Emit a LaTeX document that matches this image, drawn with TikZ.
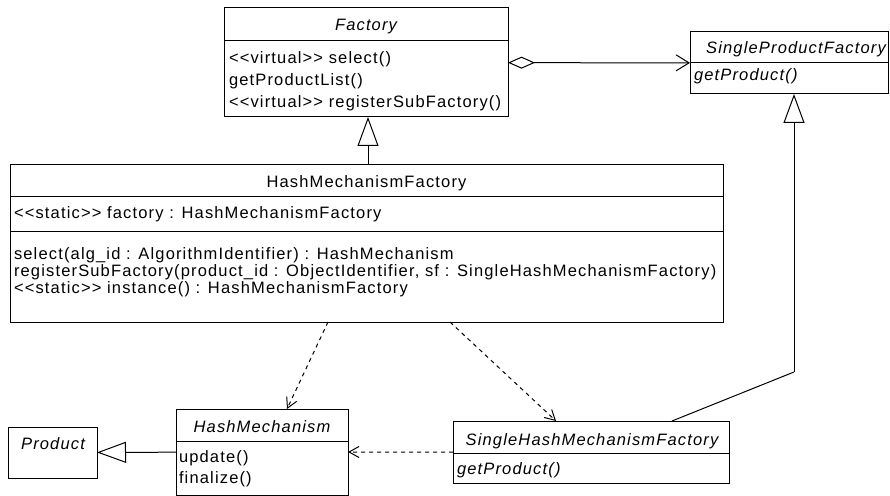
\documentclass[tikz,border=0pt]{standalone}
\usepackage{fontspec}
\newfontfamily\umlfont{Liberation Sans}[LetterSpace=7]
\usetikzlibrary{arrows.meta,calc}
\begin{document}
\begin{tikzpicture}[x=1bp,y=-1bp,
  cls/.style={draw=black, line width=1bp, inner sep=0pt, outer sep=0pt, anchor=north west},
  txt/.style={inner sep=0pt, outer sep=0pt, anchor=base west, font=\umlfont\fontsize{16.5bp}{17bp}\selectfont},
  itxt/.style={txt, font=\umlfont\fontsize{16.5bp}{17bp}\selectfont\itshape},
  ttl/.style={txt, anchor=base},
  ittl/.style={itxt, anchor=base},
  conn/.style={draw=black, line width=1bp},
  gen/.style={conn, -{Triangle[open, length=29bp, width=21bp]}},
  dep/.style={conn, dash pattern=on 4bp off 4bp, -{Straight Barb[length=10bp, width=11bp]}},
  agg/.style={conn, {Diamond[open, length=27bp, width=12bp]}-{Straight Barb[length=13bp, width=16bp]}},
  sep/.style={draw=black, line width=1bp}
]
\useasboundingbox (0,0) rectangle (890,496);

% class boxes
\node[cls, minimum width=284bp, minimum height=109bp] (factory) at (224,8) {};
\node[cls, minimum width=198bp, minimum height=62bp]  (spf)     at (690,32) {};
\node[cls, minimum width=713bp, minimum height=157bp] (hmf)     at (10,165) {};
\node[cls, minimum width=172bp, minimum height=86bp]  (hm)      at (176,409) {};
\node[cls, minimum width=89bp,  minimum height=51bp]  (product) at (8,427) {};
\node[cls, minimum width=276bp, minimum height=62bp]  (shmf)    at (453,421) {};

% compartment separators
\draw[sep] (224,41) -- (508,41);
\draw[sep] (690,63) -- (888,63);
\draw[sep] (10,197) -- (723,197);
\draw[sep] (10,232) -- (723,232);
\draw[sep] (176,441) -- (348,441);
\draw[sep] (453,453) -- (729,453);

% Factory
\node[ittl] (factoryName) at (366,31) {Factory};
\node[txt] (factoryOp1) at (229,64) {<<virtual>> select()};
\node[txt] (factoryOp2) at (229,86) {getProductList()};
\node[txt] (factoryOp3) at (229,108) {<<virtual>> registerSubFactory()};

% SingleProductFactory
\node[ittl] (spfName) at (796,54) {SingleProductFactory};
\node[itxt] (spfOp1) at (694,81) {getProduct()};

% HashMechanismFactory
\node[ttl] (hmfName) at (366.5,188) {HashMechanismFactory};
\node[txt] (hmfAttr) at (14,219) {<<static>> factory : HashMechanismFactory};
\node[txt] (hmfOp1) at (14,260) {select(alg\_id : AlgorithmIdentifier) : HashMechanism};
\node[txt] (hmfOp2) at (14,277) {registerSubFactory(product\_id : ObjectIdentifier, sf : SingleHashMechanismFactory)};
\node[txt] (hmfOp3) at (14,294) {<<static>> instance() : HashMechanismFactory};

% HashMechanism
\node[ittl] (hmName) at (262,432) {HashMechanism};
\node[txt] (hmOp1) at (179,462) {update()};
\node[txt] (hmOp2) at (179,483) {finalize()};

% Product
\node[ittl] (productName) at (53,449) {Product};

% SingleHashMechanismFactory
\node[ittl] (shmfName) at (592,445) {SingleHashMechanismFactory};
\node[itxt] (shmfOp1) at (457,474) {getProduct()};

% relations
\draw[gen] ($(hmf.north west)+(358,0)$) -- ($(factory.south west)+(144,0)$);
\draw[gen] (hm) -- (product);
\coordinate (bend) at (794,372);
\draw[conn] ($(shmf.north west)+(219,0)$) -- (bend);
\draw[gen] (bend) -- (bend |- spf.south);
\draw[agg] (factory) -- (spf);
\draw[dep] ($(hmf.south west)+(318,0)$) -- ($(hm.north west)+(111,0)$);
\draw[dep] ($(hmf.south west)+(440,0)$) -- ($(shmf.north west)+(103,0)$);
\draw[dep] (shmf) -- (hm);
\end{tikzpicture}
\end{document}
